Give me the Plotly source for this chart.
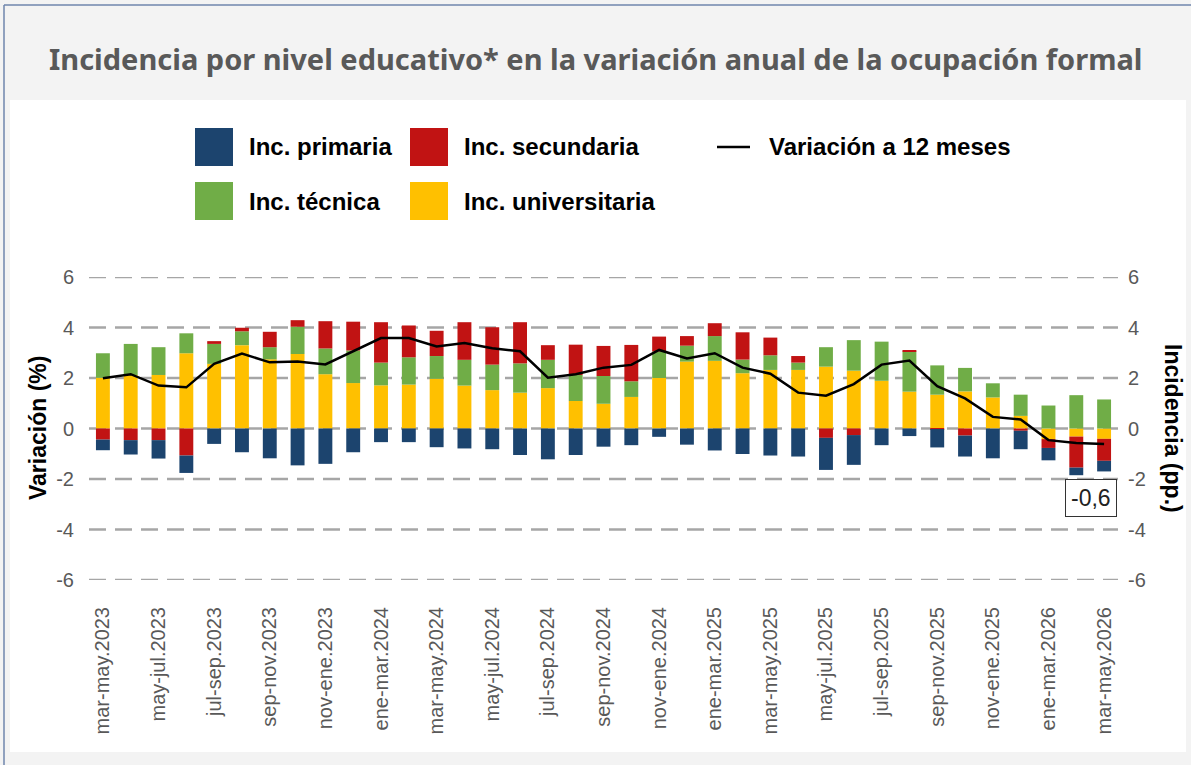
import plotly.graph_objects as go

# ---- data ----
periods = [
    "mar-may.2023", "abr-jun.2023", "may-jul.2023", "jun-ago.2023", "jul-sep.2023",
    "ago-oct.2023", "sep-nov.2023", "oct-dic.2023", "nov-ene.2023", "dic-feb.2023",
    "ene-mar.2024", "feb-abr.2024", "mar-may.2024", "abr-jun.2024", "may-jul.2024",
    "jun-ago.2024", "jul-sep.2024", "ago-oct.2024", "sep-nov.2024", "oct-dic.2024",
    "nov-ene.2024", "dic-feb.2024", "ene-mar.2025", "feb-abr.2025", "mar-may.2025",
    "abr-jun.2025", "may-jul.2025", "jun-ago.2025", "jul-sep.2025", "ago-oct.2025",
    "sep-nov.2025", "oct-dic.2025", "nov-ene.2025", "dic-feb.2025", "ene-mar.2026",
    "feb-abr.2026", "mar-may.2026",
]

inc_universitaria = [
    2.01, 2.12, 2.12, 2.98, 2.56, 3.30, 2.74, 2.95, 2.15, 1.80,
    1.71, 1.74, 1.97, 1.70, 1.52, 1.42, 1.60, 1.09, 0.98, 1.25,
    2.00, 2.65, 2.68, 2.19, 2.32, 2.32, 2.45, 2.29, 1.89, 1.46,
    1.34, 1.47, 1.23, 0.50, -0.42, -0.32, -0.41,
]
inc_tecnica = [
    0.97, 1.23, 1.10, 0.79, 0.79, 0.55, 0.48, 1.08, 1.02, 1.29,
    0.90, 1.08, 0.90, 1.02, 1.01, 1.16, 1.12, 1.03, 1.10, 0.62,
    1.05, 0.63, 0.98, 0.54, 0.58, 0.29, 0.77, 1.21, 1.55, 1.59,
    1.16, 0.93, 0.56, 0.84, 0.91, 1.32, 1.15,
]
inc_secundaria = [
    -0.44, -0.46, -0.46, -1.07, 0.11, 0.14, 0.61, 0.26, 1.08, 1.14,
    1.60, 1.26, 1.00, 1.49, 1.48, 1.63, 0.58, 1.20, 1.19, 1.44,
    0.59, 0.38, 0.51, 1.08, 0.70, 0.26, -0.37, -0.26, 0.00, 0.04,
    -0.02, -0.28, 0.00, -0.09, -0.35, -1.23, -0.87,
]
inc_primaria = [
    -0.42, -0.57, -0.73, -0.69, -0.61, -0.94, -1.18, -1.46, -1.40, -0.94,
    -0.54, -0.54, -0.74, -0.79, -0.82, -1.05, -1.22, -1.05, -0.72, -0.66,
    -0.33, -0.64, -0.87, -1.01, -1.07, -1.11, -1.27, -1.18, -0.66, -0.30,
    -0.73, -0.83, -1.18, -0.73, -0.49, -0.30, -0.42,
]
variacion_12m = [
    1.99, 2.15, 1.70, 1.63, 2.56, 2.97, 2.62, 2.65, 2.54, 3.05,
    3.58, 3.58, 3.25, 3.39, 3.18, 3.06, 2.01, 2.15, 2.41, 2.52,
    3.11, 2.77, 2.98, 2.41, 2.17, 1.42, 1.30, 1.76, 2.53, 2.69,
    1.68, 1.19, 0.46, 0.36, -0.46, -0.57, -0.61,
]

y_ticks = [-6, -4, -2, 0, 2, 4, 6]
y_ticktext = ["-6", "-4", "-2", "0", "2", "4", "6"]

title_text = "Incidencia por nivel educativo* en la variación anual de la ocupación formal"

C_PRIM = "#1C446E"
C_SEC = "#C11313"
C_TEC = "#70AD47"
C_UNI = "#FFC000"

# ---- canvas geometry (pixels) ----
W, H = 1191, 765
L, R, T, B = 89, 1118, 277, 580


def px(x):
    return (x - L) / (R - L)


def py(y):
    return (B - y) / (B - T)


fig = go.Figure()

# stacking order: yellow, green, red, blue (matches both + and - stacks)
bars = [
    ("Inc. universitaria", inc_universitaria, C_UNI),
    ("Inc. técnica", inc_tecnica, C_TEC),
    ("Inc. secundaria", inc_secundaria, C_SEC),
    ("Inc. primaria", inc_primaria, C_PRIM),
]
for name, vals, col in bars:
    fig.add_trace(go.Bar(x=periods, y=vals, name=name, marker_color=col,
                         marker_line_width=0, showlegend=False))

fig.add_trace(go.Scatter(x=periods, y=variacion_12m, name="Variación a 12 meses",
                         mode="lines", line=dict(color="black", width=2.5),
                         yaxis="y2", showlegend=False))

tick_font = dict(family="Liberation Sans, Arial", size=20, color="#595959")

fig.update_layout(
    width=W, height=H,
    margin=dict(l=L, r=W - R, t=T, b=H - B, autoexpand=False),
    paper_bgcolor="white", plot_bgcolor="white",
    barmode="relative", bargap=0.5,
    xaxis=dict(tickvals=periods[::2], tickangle=-90, showgrid=False, showline=False,
               ticks="outside", ticklen=18, tickcolor="rgba(0,0,0,0)",
               tickfont=dict(family="Liberation Sans, Arial", size=20, color="#595959"),
               range=[-0.5, len(periods) - 0.5]),
    yaxis=dict(range=[-6, 6], tickvals=y_ticks, ticktext=y_ticktext,
               showgrid=False, zeroline=False, showline=False,
               ticks="outside", ticklen=10, tickcolor="rgba(0,0,0,0)",
               tickfont=tick_font),
    yaxis2=dict(overlaying="y", side="right", range=[-6, 6], tickvals=y_ticks,
                ticktext=y_ticktext, showgrid=False, zeroline=False, showline=False,
                ticks="outside", ticklen=5, tickcolor="rgba(0,0,0,0)",
                tickfont=tick_font),
)

shapes = []
annotations = []

# page frame and title band
shapes.append(dict(type="rect", xref="paper", yref="paper", layer="below",
                   x0=px(0), x1=px(W), y0=py(H), y1=py(0),
                   fillcolor="#f3f3f3", line_width=0))
shapes.append(dict(type="rect", xref="paper", yref="paper", layer="below",
                   x0=px(10), x1=px(1186), y0=py(752), y1=py(100),
                   fillcolor="white", line_width=0))
shapes.append(dict(type="line", xref="paper", yref="paper",
                   x0=px(4), x1=px(4), y0=py(H), y1=py(5),
                   line=dict(color="#6f86ad", width=1.5)))
shapes.append(dict(type="line", xref="paper", yref="paper",
                   x0=px(4), x1=px(W), y0=py(5), y1=py(5),
                   line=dict(color="#6f86ad", width=1.5)))

# dashed horizontal grid (incl. 0 and the +/-6 edges)
for v in y_ticks:
    shapes.append(dict(type="line", xref="paper", yref="y", layer="below",
                       x0=0, x1=1, y0=v, y1=v,
                       line=dict(color="#a6a6a6", width=2.5, dash="17px,9px")))

annotations.append(dict(text="<b>" + title_text + "</b>", xref="paper", yref="paper",
                        x=px(595), y=py(58), showarrow=False,
                        xanchor="center", yanchor="middle",
                        font=dict(family="Noto Sans", size=29, color="#595959")))

# legend drawn by hand: large square swatches in two rows
legend_items = [
    ("Inc. primaria", C_PRIM, 195, 147),
    ("Inc. secundaria", C_SEC, 410, 147),
    ("Inc. técnica", C_TEC, 195, 201),
    ("Inc. universitaria", C_UNI, 410, 201),
]
leg_font = dict(family="Liberation Sans, Arial", size=24, color="black")
for name, col, x0, yc in legend_items:
    shapes.append(dict(type="rect", xref="paper", yref="paper",
                       x0=px(x0), x1=px(x0 + 38), y0=py(yc + 19), y1=py(yc - 19),
                       fillcolor=col, line_width=0))
    annotations.append(dict(text="<b>" + name + "</b>", xref="paper", yref="paper",
                            x=px(x0 + 52), y=py(yc), showarrow=False,
                            xanchor="left", yanchor="middle", font=leg_font))
shapes.append(dict(type="line", xref="paper", yref="paper",
                   x0=px(717), x1=px(750), y0=py(147), y1=py(147),
                   line=dict(color="black", width=2.5)))
annotations.append(dict(text="<b>Variación a 12 meses</b>", xref="paper", yref="paper",
                        x=px(767), y=py(147), showarrow=False,
                        xanchor="left", yanchor="middle", font=leg_font))

# axis titles
axis_font = dict(family="Liberation Sans, Arial", size=23, color="black")
annotations.append(dict(text="<b>Variación (%)</b>", xref="paper", yref="paper",
                        x=px(38), y=py(428), showarrow=False, textangle=-90,
                        xanchor="center", yanchor="middle", font=axis_font))
annotations.append(dict(text="<b>Incidencia (pp.)</b>", xref="paper", yref="paper",
                        x=px(1173), y=py(428), showarrow=False, textangle=90,
                        xanchor="center", yanchor="middle", font=axis_font))

# label of the last value
last = variacion_12m[-1]
annotations.append(dict(text=f"{last:.1f}".replace(".", ","), x=periods[-1], y=last,
                        xref="x", yref="y", showarrow=False, xshift=-13, yshift=-54,
                        bordercolor="#333333", borderwidth=1, borderpad=5,
                        bgcolor="white",
                        font=dict(family="Liberation Sans, Arial", size=23, color="#222222")))

fig.update_layout(shapes=shapes, annotations=annotations)

fig.write_html("out.html", config={"displayModeBar": False},
               post_script="document.body.style.margin='0px';")
